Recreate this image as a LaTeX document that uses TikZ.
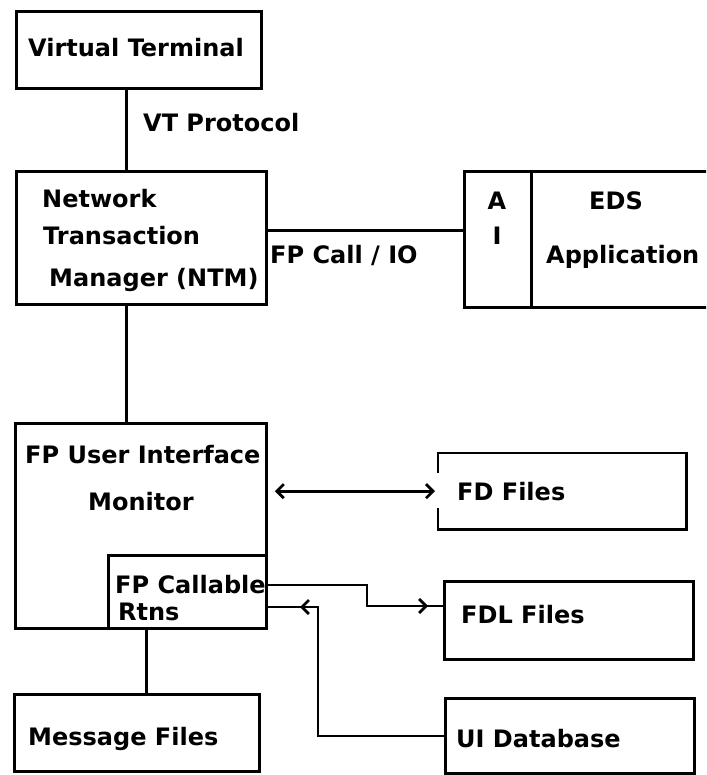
\documentclass[tikz,border=0pt]{standalone}
\usepackage{fontspec}
\setmainfont{DejaVu Sans}
\usetikzlibrary{arrows.meta}
\begin{document}
\begin{tikzpicture}[x=1pt,y=-1pt,
  conn/.style={draw, line width=2.8pt, line cap=butt},
  box/.style={draw, line width=2.8pt, anchor=north west, inner sep=0pt},
  lbl/.style={anchor=base west, inner sep=0pt, font=\bfseries\fontsize{24}{28}\selectfont},
  clbl/.style={lbl, anchor=base},
  chev/.tip={Straight Barb[length=7pt,width=14pt]}]
\clip (0,0) rectangle (706,775);
% boxes
\node[box, minimum width=245pt, minimum height=77pt] (vt) at (15,10) {};
\node[box, minimum width=250pt, minimum height=133pt] (ntm) at (15,170) {};
\node[box, minimum width=67pt, minimum height=136pt] (ai) at (463,170) {};
\node[box, minimum width=250pt, minimum height=136pt] (eds) at (530,170) {};
\node[box, minimum width=251pt, minimum height=205pt] (fpui) at (14,422) {};
\node[box, fill=white, minimum width=158pt, minimum height=73pt] (rtns) at (107,554) {};
\node[anchor=north west, inner sep=0pt, minimum width=248pt, minimum height=76pt] (fd) at (438,453) {};
\draw[conn] ([yshift=18pt]fd.west) |- (fd.north east) |- (fd.south west) -- ([yshift=-17pt]fd.west);
\node[box, minimum width=249pt, minimum height=78pt] (fdl) at (443,580) {};
\node[box, minimum width=249pt, minimum height=75pt] (uidb) at (444,697) {};
\node[box, minimum width=245pt, minimum height=77pt] (msg) at (13,693) {};
% labels
\node[lbl] (tvt) at (28,57) {Virtual Terminal};
\node[lbl] (tvtp) at (143,132) {VT Protocol};
\node[lbl] (tn1) at (42,208) {Network};
\node[lbl] (tn2) at (43,245) {Transaction};
\node[lbl] (tn3) at (49,287) {Manager (NTM)};
\node[lbl] (tfp) at (270,263) {FP Call / IO};
\node[clbl] (ta) at (497,210) {A};
\node[clbl] (ti) at (497,245) {I};
\node[clbl] (teds) at (616,210) {EDS};
\node[lbl] (tapp) at (546,263) {Application};
\node[lbl] (tui1) at (25,463) {FP User Interface};
\node[lbl] (tui2) at (88,510) {Monitor};
\node[lbl] (tr1) at (115,593) {FP Callable};
\node[lbl] (tr2) at (118,620) {Rtns};
\node[lbl] (tfd) at (457,500) {FD Files};
\node[lbl] (tfdl) at (461,623) {FDL Files};
\node[lbl] (tudb) at (456,747) {UI Database};
\node[lbl] (tmsg) at (28,745) {Message Files};
% connectors
\draw[conn] ([xshift=-12.5pt]vt.south) -- ([xshift=-12.5pt]vt.south |- ntm.north);
\draw[conn] ([xshift=-15pt]ntm.south) -- ([xshift=-15pt]ntm.south |- fpui.north);
\draw[conn] ([yshift=7pt]ntm.east) -- ([yshift=7pt]ntm.east -| ai.west);
\draw[conn] ([xshift=9.5pt]msg.north) -- ([xshift=9.5pt]msg.north |- rtns.south);
\draw[conn, chev-chev, shorten <=7pt, shorten >=3pt] (fpui.east |- fd.west) -- (fd.west);
\coordinate (b1) at (367,606);
\coordinate (c1) at (428,606);
\coordinate (c2) at (318,607);
\coordinate (c3) at (300,607);
\draw[conn] ([yshift=7pt]rtns.east) -| (b1) -- (c1);
\draw[conn, -chev] ([xshift=-10pt]c1) -- (c1);
\draw[conn] (c1) -- (fdl.west |- c1);
\draw[conn] (uidb.west) -| (c2) -- (c3);
\draw[conn, -chev] ([xshift=10pt]c3) -- (c3);
\draw[conn] (c3) -- (rtns.east |- c3);
\end{tikzpicture}
\end{document}
